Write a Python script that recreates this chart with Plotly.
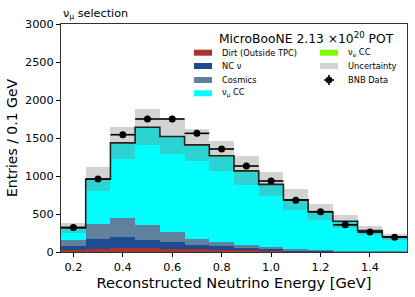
import numpy as np
import plotly.graph_objects as go

# ---- data ----
bin_centers = [0.2, 0.3, 0.4, 0.5, 0.6, 0.7, 0.8, 0.9, 1.0, 1.1, 1.2, 1.3, 1.4, 1.5]
bin_width = 0.1
dirt = [25, 45, 55, 50, 42, 35, 28, 20, 14, 9, 6, 4, 3, 2]
nc_nu = [60, 125, 137, 112, 85, 61, 46, 32, 29, 17, 12, 8, 5, 3]
cosmics = [68, 198, 250, 188, 136, 79, 57, 35, 23, 9, 7, 6, 4, 3]
numu_cc = [164, 588, 991, 1289, 1253, 1232, 1132, 978, 821, 650, 503, 385, 268, 191]
nue_cc = [1, 2, 3, 3, 3, 3, 3, 3, 3, 3, 2, 2, 2, 1]
mc_err = [62, 158, 215, 235, 225, 213, 197, 189, 158, 138, 105, 85, 55, 38]
bnb_data = [324, 960, 1543, 1750, 1750, 1561, 1355, 1131, 934, 682, 530, 357, 263, 195]
x_ticks = [0.2, 0.4, 0.6, 0.8, 1.0, 1.2, 1.4]
y_ticks = [0, 500, 1000, 1500, 2000, 2500, 3000]

FONT = "DejaVu Sans"
W, H = 415, 297
ML, MR, MT, MB = 61, 8, 24, 45
PW, PH = W - ML - MR, H - MT - MB

def px2paper(px, py):
    return (px - ML) / PW, (H - MB - py) / PH

components = [
    ("Dirt (Outside TPC)", dirt, "#a8352a"),
    ("NC \u03bd", nc_nu, "#1f4a8f"),
    ("Cosmics", cosmics, "#5f819e"),
    ("\u03bd<sub>\u03bc</sub> CC", numu_cc, "#00ffff"),
    ("\u03bd<sub>e</sub> CC", nue_cc, "#7cfc00"),
]
UNC_COLOR = "rgba(128,128,128,0.35)"

fig = go.Figure()
base = np.zeros(len(bin_centers))
for name, vals, col in components:
    v = np.array(vals, dtype=float)
    fig.add_trace(go.Bar(
        x=bin_centers, y=v, base=base.copy(), width=bin_width,
        marker=dict(color=col, line=dict(width=0)),
        name=name, showlegend=False,
    ))
    base = base + v

total = base
err = np.array(mc_err, dtype=float)
fig.add_trace(go.Bar(
    x=bin_centers, y=2 * err, base=total - err, width=bin_width,
    marker=dict(color=UNC_COLOR, line=dict(width=0)),
    name="Uncertainty", showlegend=False,
))

edges = [c - bin_width / 2 for c in bin_centers] + [bin_centers[-1] + bin_width / 2]
fig.add_trace(go.Scatter(
    x=edges, y=list(total) + [total[-1]], mode="lines",
    line=dict(shape="hv", color="#222222", width=1.6),
    showlegend=False, hoverinfo="skip",
))

fig.add_trace(go.Scatter(
    x=bin_centers, y=bnb_data, mode="markers",
    marker=dict(color="black", size=7),
    error_x=dict(type="constant", value=bin_width / 2, color="black", thickness=1.6, width=0),
    error_y=dict(type="data", array=list(np.sqrt(bnb_data)), color="black", thickness=1.6, width=0),
    name="BNB Data", showlegend=False,
))

# ---- manual legend (two columns, matplotlib style) ----
shapes = []
annotations = []
legend_items = [
    (components[0][0], components[0][2], 194, 52.7, "patch"),
    (components[1][0], components[1][2], 194, 66.0, "patch"),
    (components[2][0], components[2][2], 194, 80.0, "patch"),
    (components[3][0], components[3][2], 194, 93.3, "patch"),
    (components[4][0], components[4][2], 320, 52.7, "patch"),
    ("Uncertainty", UNC_COLOR, 320, 66.0, "patch"),
    ("BNB Data", "black", 320, 80.0, "data"),
]
for label, col, cx, cy, kind in legend_items:
    if kind == "patch":
        x0, y0 = px2paper(cx, cy + 3)
        x1, y1 = px2paper(cx + 18, cy - 3)
        shapes.append(dict(type="rect", xref="paper", yref="paper", x0=x0, y0=y0, x1=x1, y1=y1,
                           fillcolor=col, line=dict(width=0), layer="above"))
    else:
        mx = cx + 9
        a0, b0 = px2paper(mx - 5, cy)
        a1, b1 = px2paper(mx + 5, cy)
        shapes.append(dict(type="line", xref="paper", yref="paper", x0=a0, y0=b0, x1=a1, y1=b1,
                           line=dict(color="black", width=1.6), layer="above"))
        a0, b0 = px2paper(mx, cy - 5)
        a1, b1 = px2paper(mx, cy + 5)
        shapes.append(dict(type="line", xref="paper", yref="paper", x0=a0, y0=b0, x1=a1, y1=b1,
                           line=dict(color="black", width=1.6), layer="above"))
        a0, b0 = px2paper(mx - 3.3, cy + 3.3)
        a1, b1 = px2paper(mx + 3.3, cy - 3.3)
        shapes.append(dict(type="circle", xref="paper", yref="paper", x0=a0, y0=b0, x1=a1, y1=b1,
                           fillcolor="black", line=dict(width=0), layer="above"))
    tx, ty = px2paper(cx + 26, cy)
    annotations.append(dict(text=label, xref="paper", yref="paper", x=tx, y=ty,
                            xanchor="left", yanchor="middle", showarrow=False,
                            font=dict(size=8.3, family=FONT)))

tx, ty = px2paper(306.7, 37.5)
annotations.append(dict(text="MicroBooNE 2.13 \u00d710<sup>20</sup> POT", xref="paper", yref="paper",
                        x=tx, y=ty, xanchor="center", yanchor="middle", showarrow=False,
                        font=dict(size=12.3, family=FONT)))
annotations.append(dict(text="\u03bd<sub>\u03bc</sub> selection", xref="paper", yref="paper",
                        x=0, y=1.005, xanchor="left", yanchor="bottom", showarrow=False,
                        font=dict(size=11.2, family=FONT)))

fig.update_layout(
    width=W, height=H,
    margin=dict(l=ML, r=MR, t=MT, b=MB),
    barmode="overlay", bargap=0,
    paper_bgcolor="white", plot_bgcolor="white",
    font=dict(family=FONT, color="black", size=11),
    showlegend=False,
    shapes=shapes,
    annotations=annotations,
    xaxis=dict(range=[0.15, 1.55], tickvals=x_ticks, ticktext=[f"{t:.1f}" for t in x_ticks],
               ticks="outside", ticklen=4, tickwidth=1, tickcolor="black",
               showline=True, linecolor="#333333", linewidth=1, mirror=True,
               showgrid=False, zeroline=False, automargin=False,
               title=dict(text="Reconstructed Neutrino Energy [GeV]", font=dict(size=14.6), standoff=0),
               tickfont=dict(size=11.3)),
    yaxis=dict(range=[0, 3000], tickvals=y_ticks,
               ticks="outside", ticklen=4, tickwidth=1, tickcolor="black",
               showline=True, linecolor="#333333", linewidth=1, mirror=True,
               showgrid=False, zeroline=False, automargin=False,
               title=dict(text="Entries / 0.1 GeV", font=dict(size=14), standoff=4),
               tickfont=dict(size=11.3)),
)

# remove the browser's default 8px body margin so the figure sits at the page origin
fig.write_html("out.html", config={"displayModeBar": False},
               post_script="document.body.style.margin='0';")
